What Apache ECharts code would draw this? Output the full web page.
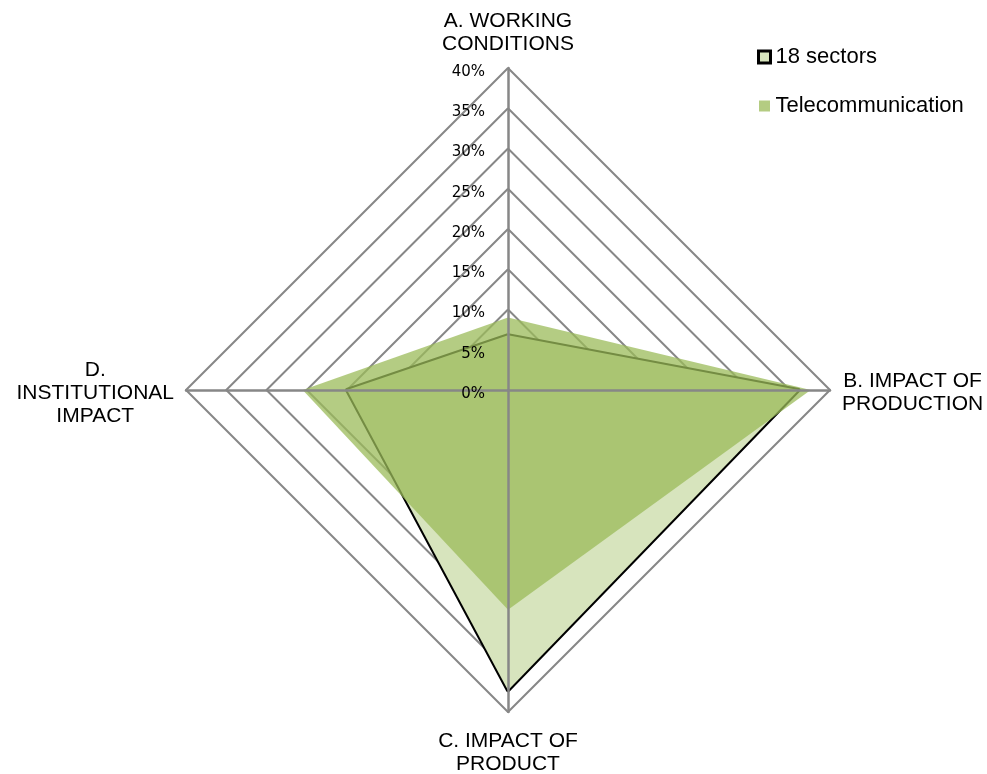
<!DOCTYPE html>
<html>
<head>
<meta charset="utf-8">
<script src="https://cdn.jsdelivr.net/npm/echarts@6/dist/echarts.min.js"></script>
<style>
  html, body { margin: 0; padding: 0; background: #fff; }
  #chart { width: 987px; height: 774px; }
</style>
</head>
<body>
<div id="chart"></div>
<script>
// Dimensions in reading order (A top, then clockwise)
const categories = ['A. WORKING\nCONDITIONS', 'B. IMPACT OF\nPRODUCTION', 'C. IMPACT OF\nPRODUCT', 'D.\nINSTITUTIONAL\nIMPACT'];
// Shares (%) per dimension
const sectors18 = [6.8, 36.1, 37.3, 20.0];
const telecom = [9.0, 37.6, 27.3, 25.5];
const seriesNames = ['18 sectors', 'Telecommunication'];
// Scale ticks (%)
const ticks = [0, 5, 10, 15, 20, 25, 30, 35, 40];
const scaleMax = ticks[ticks.length - 1];
const scaleStep = ticks[1] - ticks[0];

// ECharts lays indicators out counter-clockwise; reorder so B sits on the right
const order = [0, 3, 2, 1];
const indicators = order.map(i => ({ name: categories[i], min: 0, max: scaleMax }));
const pick = arr => order.map(i => arr[i]);

const CENTER = [508, 390];
const RADIUS = 322;
const GRID = '#878787';
const FONT = 'Liberation Sans, Arial, sans-serif';

const chart = echarts.init(document.getElementById('chart'), null, { renderer: 'canvas' });

// grid rings as closed outlines at every tick, drawn beneath the areas
const ringData = ticks.filter(t => t > 0).map(t => ({ value: categories.map(() => t) }));

chart.setOption({
  backgroundColor: '#ffffff',
  animation: false,
  legend: {
    orient: 'vertical',
    left: 752,
    top: 41,
    itemWidth: 12,
    itemHeight: 12,
    itemGap: 27,
    textStyle: { fontFamily: FONT, fontSize: 22, color: '#000' },
    data: [
      { name: seriesNames[0], icon: 'rect', itemStyle: { color: '#d7e4bd', borderColor: '#000', borderWidth: 3 } },
      { name: seriesNames[1], icon: 'rect', itemStyle: { color: '#b4cc82', borderColor: '#fff', borderWidth: 1 } }
    ]
  },
  radar: [
    {
      // dimension names
      z: 0,
      center: CENTER,
      radius: RADIUS,
      startAngle: 90,
      shape: 'polygon',
      splitNumber: scaleMax / scaleStep,
      indicator: indicators,
      nameGap: 12,
      axisName: {
        color: '#000',
        fontFamily: FONT,
        fontSize: 21,
        padding: [6, 0, 0, 0],
        formatter: v => '{n|' + v + '}',
        rich: { n: { align: 'center', fontFamily: FONT, fontSize: 21, lineHeight: 23, color: '#000' } }
      },
      axisLine: { show: false },
      axisTick: { show: false },
      axisLabel: { show: false },
      splitLine: { show: false },
      splitArea: { show: false }
    },
    {
      // spokes drawn above the filled areas
      z: 5,
      center: CENTER,
      radius: RADIUS,
      startAngle: 90,
      shape: 'polygon',
      splitNumber: scaleMax / scaleStep,
      indicator: indicators,
      axisName: { show: false },
      axisLine: { show: true, lineStyle: { color: GRID, width: 2.5 } },
      axisTick: { show: false },
      axisLabel: { show: false },
      splitLine: { show: false },
      splitArea: { show: false }
    }
  ],
  // percentage scale along the top spoke
  polar: { center: CENTER, radius: RADIUS },
  angleAxis: {
    type: 'value', min: 0, max: 360, startAngle: 90,
    axisLine: { show: false }, axisTick: { show: false },
    axisLabel: { show: false }, splitLine: { show: false }
  },
  radiusAxis: {
    type: 'value', min: 0, max: scaleMax, interval: scaleStep, z: 6,
    axisLine: { show: false }, axisTick: { show: false }, splitLine: { show: false },
    axisLabel: {
      formatter: '{value}%', margin: 23, color: '#000',
      verticalAlign: 'top', lineHeight: 8,
      fontFamily: 'DejaVu Sans, sans-serif', fontSize: 15
    }
  },
  series: [
    {
      type: 'radar',
      radarIndex: 0,
      z: 1,
      silent: true,
      symbol: 'none',
      lineStyle: { color: GRID, width: 2, opacity: 1 },
      data: ringData
    },
    {
      type: 'radar',
      radarIndex: 0,
      z: 2,
      symbol: 'none',
      lineStyle: { color: '#000', width: 4 },
      areaStyle: { color: '#d7e4bd', opacity: 1 },
      data: [{ name: seriesNames[0], value: pick(sectors18) }]
    },
    {
      type: 'radar',
      radarIndex: 0,
      z: 3,
      symbol: 'none',
      lineStyle: { width: 0, opacity: 0 },
      areaStyle: { color: '#9bbb59', opacity: 0.75 },
      data: [{ name: seriesNames[1], value: pick(telecom) }]
    }
  ]
});
</script>
</body>
</html>
